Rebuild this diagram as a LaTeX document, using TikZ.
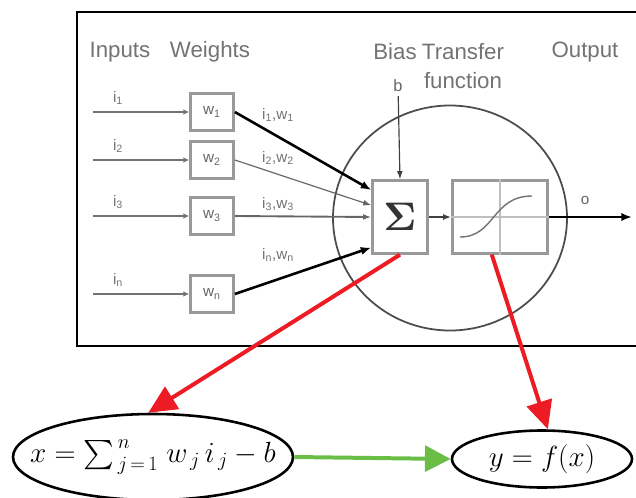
\documentclass[tikz,border=0pt]{standalone}
\usepackage{amsmath}
\usepackage{graphicx}
\usepackage[no-math]{fontspec}
\setsansfont{Liberation Sans}
\usetikzlibrary{arrows.meta,shapes.geometric}
\definecolor{arrred}{RGB}{237,28,36}
\definecolor{arrgreen}{RGB}{106,190,69}
\begin{document}
\begin{tikzpicture}[x=0.03cm,y=-0.03cm,
  lbl/.style={font=\sffamily\fontsize{19}{24}\selectfont, text=black!55},
  sublbl/.style={font=\sffamily\fontsize{13}{15}\selectfont, text=black!55},
  wbox/.style={draw=black!40, fill=white, line width=2pt, minimum width=1.3cm, minimum height=1.1cm,
    font=\sffamily\fontsize{13}{15}\selectfont, text=black!60},
  fbox/.style={draw=black!40, fill=white, line width=2pt, minimum height=2.19cm},
  inline/.style={draw=black!55, line width=2pt, -{Latex[length=5pt,width=5pt]}},
  heavy/.style={draw=black, line width=2.2pt, -{Latex[length=9pt,width=7pt]}},
  light/.style={draw=black!60, line width=1pt, -{Latex[length=7pt,width=5pt]}},
  eqn/.style={ellipse, draw=black, line width=2.2pt, inner sep=0pt, font=\fontsize{23}{28}\selectfont},
  redarr/.style={draw=arrred, line width=3.4pt, -{Triangle[length=24pt,width=22pt]}},
  greenarr/.style={draw=arrgreen, line width=3.4pt, -{Triangle[length=22pt,width=22pt]}}]
\useasboundingbox (0,0) rectangle (636,497);

% frame
\draw[line width=2.5pt] (640,12) -- (77,12) -- (77,346) -- (640,346);

% headings
\node[lbl] (hin) at (120,52) {Inputs};
\node[lbl] (hw) at (210,52) {Weights};
\node[lbl] (hb) at (395,52) {Bias};
\node[lbl, align=center] (htf) at (463,66) {Transfer\\function};
\node[lbl] (hout) at (585,52) {Output};

% neuron body
\node[ellipse, draw=black!70, line width=1.5pt, minimum width=7.02cm, minimum height=6.75cm] (cell) at (450,218) {};

% inputs and weights
\foreach \n/\y/\yl in {1/112/115, 2/160/158, 3/216/204, n/294/255}{
  \coordinate (i\n) at (93,\y);
  \node[wbox] (w\n) at (212,\y) {w\textsubscript{\n}};
  \node[sublbl] at (118,\y-14) {i\textsubscript{\n}};
  \node[sublbl] at (278,\yl) {i\textsubscript{\n},w\textsubscript{\n}};
  \draw[inline] (i\n) -- (w\n);
}

% summation and transfer boxes
\node[fbox, minimum width=1.65cm, text=black!80] (sig) at (400,217) {\scalebox{3.4}{$\mathbf{\Sigma}$}};
\node[fbox, minimum width=2.85cm] (tf) at (500,217) {};
\draw[black!25, line width=1pt] (tf.north) -- (tf.south);
\draw[black!25, line width=1pt] (tf.west) -- (tf.east);
\draw[black!55, line width=1.2pt] (460,237) .. controls (495,237) and (492,196) .. (532,196);

% bias
\node[font=\sffamily\fontsize{14}{16}\selectfont, text=black!60] (b) at (398,86) {b};
\draw[light, draw=black!75] (b) -- (sig.north);

% weighted inputs
\draw[heavy] (w1.east) -- ([yshift=23pt]sig.west);
\draw[light] (w2.east) -- ([yshift=10pt]sig.west);
\draw[light, line width=1.6pt] (w3.east) -- (sig.west);
\draw[heavy] (wn.east) -- ([yshift=-26pt]sig.west);

% output
\draw[light, draw=black!75, line width=1.4pt] (sig.east) -- (tf.west);
\coordinate (o) at (632,217);
\draw[heavy] (tf.east) -- (o);
\node[font=\sffamily\fontsize{13}{15}\selectfont, text=black!60] (olbl) at (585,200) {o};

% equations
\node[eqn, minimum width=8.4cm, minimum height=2.58cm] (xeq) at (153,457) {\makebox[0pt]{$x = {\textstyle\sum\nolimits_{\,j\,=\,1}^{\,n}}\; w_{\,j}\,i_{\,j} - b$}};
\node[eqn, minimum width=5.4cm, minimum height=1.71cm] (yeq) at (542,459) {\makebox[0pt]{$y = f(x)$}};

\draw[redarr] (sig.south) -- ([xshift=-4pt]xeq.north);
\draw[redarr] ([xshift=-7pt]tf.south) -- ([xshift=5pt]yeq.north);
\draw[greenarr] (xeq.east) -- (yeq.west);
\end{tikzpicture}
\end{document}
